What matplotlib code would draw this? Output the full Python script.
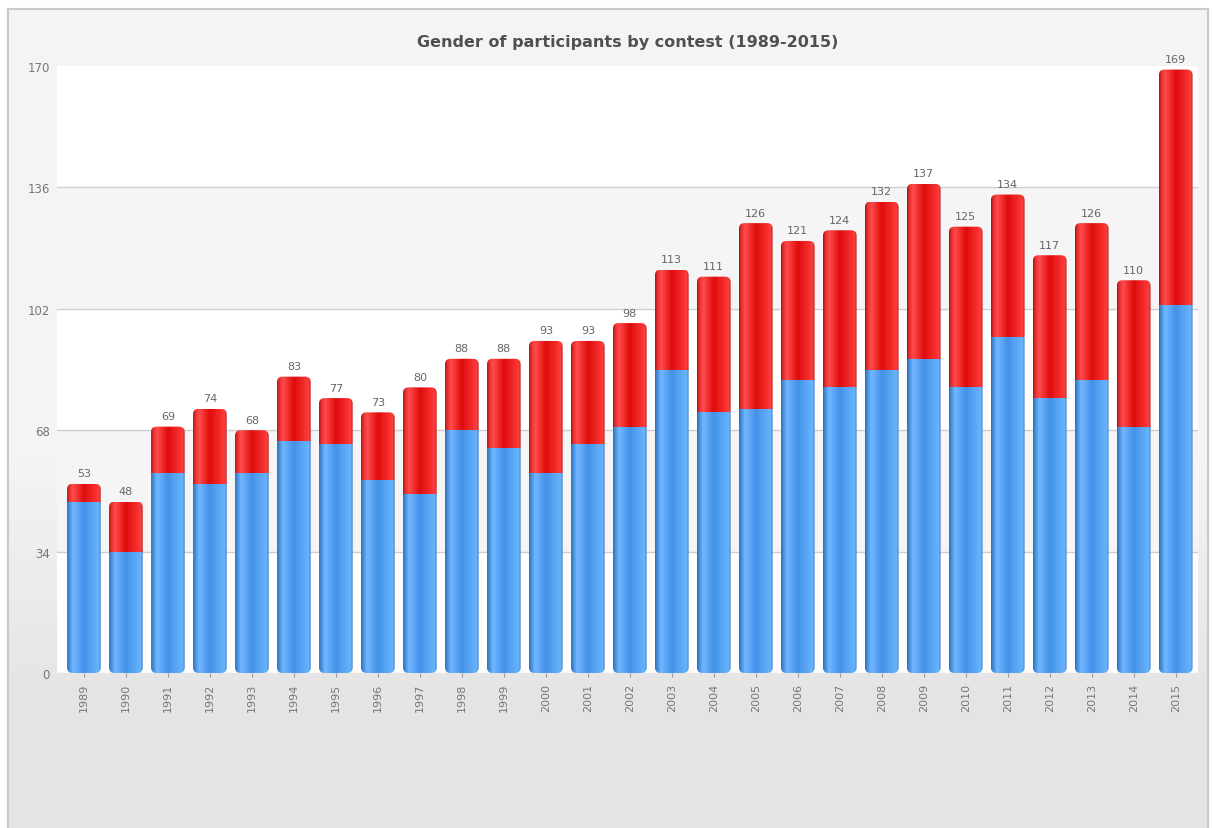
import numpy as np
import matplotlib
matplotlib.use('Agg')
import matplotlib.pyplot as plt
from matplotlib.patches import FancyBboxPatch, Rectangle
from matplotlib.colors import to_rgb

# datos
years = [str(y) for y in range(1989, 2016)]
blue_vals = [48, 34, 56, 53, 56, 65, 64, 54, 50, 68, 63, 56, 64, 69,
             85, 73, 74, 82, 80, 85, 88, 80, 94, 77, 82, 69, 103]
totals = [53, 48, 69, 74, 68, 83, 77, 73, 80, 88, 88, 93, 93, 98,
          113, 111, 126, 121, 124, 132, 137, 125, 134, 117, 126, 110, 169]
red_vals = [t - b for t, b in zip(totals, blue_vals)]
yticks = [0, 34, 68, 102, 136, 170]
title = 'Gender of participants by contest (1989-2015)'

W, H = 1212, 829
fig = plt.figure(figsize=(W / 100, H / 100), dpi=100)
fig.patch.set_facecolor('white')

# fondo del marco con degradado
bg = fig.add_axes([0, 0, 1, 1], zorder=-5)
bg.set_xlim(0, W)
bg.set_ylim(0, H)
bg.axis('off')
vgrad = np.linspace(0, 1, 256).reshape(-1, 1)
top_c = np.array(to_rgb('#f4f4f4'))
bot_c = np.array(to_rgb('#e4e4e4'))
k = np.clip((vgrad - 0.55) / 0.3, 0, 1)[..., None]
img = top_c * (1 - k) + bot_c * k
bg.imshow(img, extent=[8, 1208, 0, H - 10], aspect='auto', origin='upper')
bg.add_patch(Rectangle((8, -2), 1200, H - 8, facecolor='none',
                       edgecolor='#c9c9c9', lw=1.5))

ax = fig.add_axes([57 / W, 1 - 674 / H, (1198 - 57) / W, (674 - 67) / H])
ax.set_facecolor('white')
for s in ax.spines.values():
    s.set_visible(False)

# bandas alternas
for i in range(len(yticks) - 1):
    if i % 2 == 1:
        ax.axhspan(yticks[i], yticks[i + 1], color='#f5f5f5', zorder=0, lw=0)
for t in yticks[1:-1]:
    ax.axhline(t, color='#cfcfcf', lw=1, zorder=0.5)
ax.axhline(0, color='#f3d9b8', lw=1, zorder=0.5)

x = np.arange(len(years))
bw = 0.8
blue_bars = ax.bar(x, blue_vals, width=bw, color='none', zorder=1)
red_bars = ax.bar(x, red_vals, width=bw, bottom=blue_vals, color='none', zorder=1)


def make_grad(stops):
    pos = [p for p, c in stops]
    cols = np.array([to_rgb(c) for p, c in stops])
    xs = np.linspace(0, 1, 200)
    g = np.stack([np.interp(xs, pos, cols[:, k]) for k in range(3)], axis=-1)
    return g.reshape(1, -1, 3)


blue_grad = make_grad([(0, '#2f6db5'), (0.07, '#4590df'), (0.18, '#72b7ff'),
                       (0.5, '#4392e8'), (0.8, '#5dabf6'), (0.94, '#68b3fd'),
                       (1, '#3470b8')])
red_grad = make_grad([(0, '#a51212'), (0.07, '#e83030'), (0.18, '#ff4c4c'),
                      (0.5, '#de0c0c'), (0.8, '#f42c2c'), (0.94, '#ff3e3e'),
                      (1, '#a81414')])

asp = (170 / (674 - 67)) / (27.17 / (1198 - 57))
for b_patch, r_patch in zip(blue_bars, red_bars):
    x0 = b_patch.get_x()
    x1 = x0 + b_patch.get_width()
    top = r_patch.get_y() + r_patch.get_height()
    clip = FancyBboxPatch((x0, 0), x1 - x0, top,
                          boxstyle='round,pad=0,rounding_size=0.13',
                          mutation_aspect=asp, transform=ax.transData,
                          facecolor='none', edgecolor='none')
    ax.add_patch(clip)
    im1 = ax.imshow(blue_grad, extent=[x0, x1, 0, b_patch.get_height()],
                    aspect='auto', interpolation='bilinear', zorder=2)
    im1.set_clip_path(clip)
    im2 = ax.imshow(red_grad, extent=[x0, x1, r_patch.get_y(), top],
                    aspect='auto', interpolation='bilinear', zorder=2)
    im2.set_clip_path(clip)
    ax.annotate(str(totals[int(round(x0 + bw / 2))]), (x0 + bw / 2, top),
                xytext=(0, 4), textcoords='offset points', ha='center',
                va='bottom', fontsize=8, color='#666666', zorder=3)

ax.set_xlim(-0.64, 26.53)
ax.set_ylim(0, 170)
ax.set_yticks(yticks)
ax.set_yticklabels([str(t) for t in yticks], fontsize=8.5, color='#777777')
ax.tick_params(axis='y', length=0, pad=5)
ax.set_xticks(x)
ax.set_xticklabels(years, rotation=90, fontsize=8, color='#777777')
ax.tick_params(axis='x', length=3, color='#999999', pad=4, width=0.8)

fig.text((57 + 1198) / 2 / W, 1 - 43 / H, title, ha='center', va='center',
         fontsize=11.5, fontweight='bold', color='#505050')

plt.savefig('out.png', dpi=100)
